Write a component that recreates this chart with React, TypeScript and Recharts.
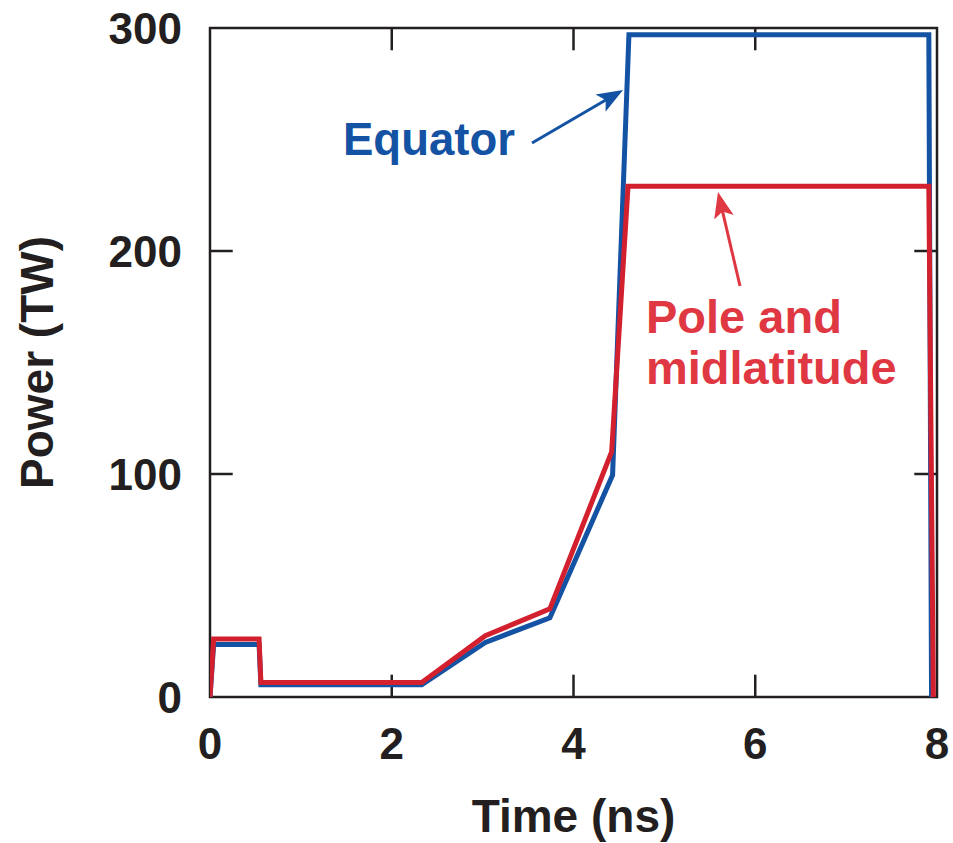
import { LineChart, Line, XAxis, YAxis, ReferenceLine, ReferenceArea, Label } from "recharts";

const equatorTime = [0, 0.04, 0.54, 0.56, 2.33, 3.03, 3.74, 4.43, 4.61, 7.91, 7.94];
const equatorPower = [0, 23.5, 23.5, 5.5, 5.5, 24.5, 35.5, 99.5, 297, 297, 0];
const poleTime = [0, 0.04, 0.54, 0.56, 2.33, 3.03, 3.74, 4.42, 4.6, 7.91, 7.96];
const polePower = [0, 26, 26, 6.5, 6.5, 27.5, 39.5, 110, 229, 229, 0];

const xTicks = [0, 2, 4, 6, 8];
const yTicks = [0, 100, 200, 300];
const xInnerTicks = [2, 4, 6];
const yInnerTicks = [100, 200];

const BLUE = "#1452a3";
const RED = "#d2202e";
const RED_TEXT = "#e03843";
const INK = "#231f20";
const FONT = "'Liberation Sans', Arial, Helvetica, sans-serif";

// inward tick lengths, in data units
const TICK_Y = 10;
const TICK_X = 0.25;

const equator = equatorTime.map((t, i) => ({ t, p: equatorPower[i] }));
const pole = poleTime.map((t, i) => ({ t, p: polePower[i] }));

const tickStyle = { fontSize: 44, fontWeight: 700, fill: INK, fontFamily: FONT };

function YLabel(props: any) {
  const vb = props.viewBox;
  const x = vb.x + 43;
  const y = vb.y + vb.height / 2;
  return (
    <text
      x={x}
      y={y}
      transform={`rotate(-90, ${x}, ${y})`}
      textAnchor="middle"
      fontSize={46}
      fontWeight={700}
      fill={INK}
      fontFamily={FONT}
    >
      Power (TW)
    </text>
  );
}

function Arrow({ x1, y1, x2, y2, color }: { x1: number; y1: number; x2: number; y2: number; color: string }) {
  const len = Math.hypot(x2 - x1, y2 - y1);
  const ux = (x2 - x1) / len;
  const uy = (y2 - y1) / len;
  const hl = 26;
  const hw = 10;
  const bx = x2 - ux * hl;
  const by = y2 - uy * hl;
  const pts = `${x2},${y2} ${bx - uy * hw},${by + ux * hw} ${x2 - ux * (hl - 6)},${y2 - uy * (hl - 6)} ${bx + uy * hw},${by - ux * hw}`;
  return (
    <g>
      <line x1={x1} y1={y1} x2={x2 - ux * 14} y2={y2 - uy * 14} stroke={color} strokeWidth={3} />
      <polygon points={pts} fill={color} />
    </g>
  );
}

export default function App() {
  return (
    <div style={{ position: "absolute", left: 0, top: 0, width: 953, height: 843, background: "#fff" }}>
      <LineChart width={953} height={843} margin={{ top: 28, right: 16, bottom: 6, left: 10 }}>
        <XAxis
          type="number"
          dataKey="t"
          domain={[0, 8]}
          ticks={xTicks}
          allowDataOverflow
          height={140}
          axisLine={false}
          tickLine={false}
          tickSize={0}
          tickMargin={31}
          tick={tickStyle}
        >
          <Label
            value="Time (ns)"
            position="insideBottom"
            offset={5}
            style={{ fontSize: 46, fontWeight: 700, fill: INK, fontFamily: FONT }}
          />
        </XAxis>
        <YAxis
          type="number"
          dataKey="p"
          domain={[0, 300]}
          ticks={yTicks}
          allowDataOverflow
          width={200}
          axisLine={false}
          tickLine={false}
          tickSize={0}
          tickMargin={28}
          tick={tickStyle}
        >
          <Label content={<YLabel />} />
        </YAxis>
        <ReferenceArea
          x1={0}
          x2={8}
          y1={0}
          y2={300}
          fill="none"
          stroke={INK}
          strokeWidth={2.5}
          ifOverflow="visible"
        />
        {xInnerTicks.map((v) => (
          <ReferenceLine key={`b${v}`} segment={[{ x: v, y: 0 }, { x: v, y: TICK_Y }]} stroke={INK} strokeWidth={2.5} />
        ))}
        {xInnerTicks.map((v) => (
          <ReferenceLine key={`t${v}`} segment={[{ x: v, y: 300 }, { x: v, y: 300 - TICK_Y }]} stroke={INK} strokeWidth={2.5} />
        ))}
        {yInnerTicks.map((v) => (
          <ReferenceLine key={`l${v}`} segment={[{ x: 0, y: v }, { x: TICK_X, y: v }]} stroke={INK} strokeWidth={2.5} />
        ))}
        {yInnerTicks.map((v) => (
          <ReferenceLine key={`r${v}`} segment={[{ x: 8, y: v }, { x: 8 - TICK_X, y: v }]} stroke={INK} strokeWidth={2.5} />
        ))}
        <Line
          data={equator}
          dataKey="p"
          type="linear"
          stroke={BLUE}
          strokeWidth={5}
          dot={false}
          activeDot={false}
          isAnimationActive={false}
          strokeLinejoin="miter"
        />
        <Line
          data={pole}
          dataKey="p"
          type="linear"
          stroke={RED}
          strokeWidth={5}
          dot={false}
          activeDot={false}
          isAnimationActive={false}
          strokeLinejoin="miter"
        />
      </LineChart>
      <svg
        width={953}
        height={843}
        style={{ position: "absolute", left: 0, top: 0, pointerEvents: "none" }}
      >
        <text x={343} y={155} fontSize={45.5} fontWeight={700} fill={BLUE} fontFamily={FONT}>
          Equator
        </text>
        <Arrow x1={532} y1={143} x2={623} y2={90} color={BLUE} />
        <text x={646} y={333} fontSize={47} fontWeight={700} fill={RED_TEXT} fontFamily={FONT}>
          Pole and
        </text>
        <text x={646} y={384} fontSize={47} fontWeight={700} fill={RED_TEXT} fontFamily={FONT}>
          midlatitude
        </text>
        <Arrow x1={740} y1={286} x2={718} y2={192} color={RED_TEXT} />
      </svg>
    </div>
  );
}
